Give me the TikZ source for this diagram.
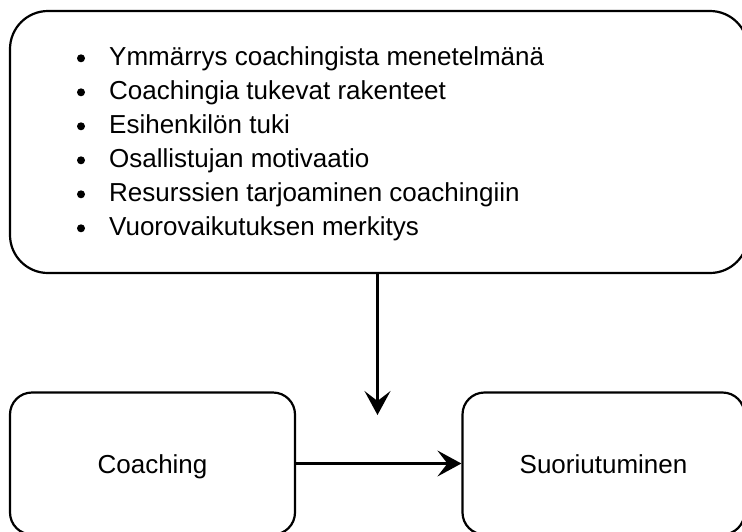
\documentclass[tikz,border=0pt]{standalone}
\usepackage{fontspec}
\setmainfont{Liberation Sans}
\usetikzlibrary{arrows.meta}

\tikzset{
  box/.style={draw, line width=2.2pt, rounded corners=#1, inner sep=0pt},
  boxtext/.style={font=\fontsize{26}{30}\selectfont, text height=19pt, text depth=0pt},
  item/.style={anchor=base west, inner sep=0pt, font=\fontsize{26}{30}\selectfont},
  dot/.style={fill=black},
  flow/.style={draw, line width=2.2pt, -{Stealth[length=24pt, width=26pt, inset=10pt]}}
}

\begin{document}
\begin{tikzpicture}[x=1pt, y=-1pt]
  \useasboundingbox (0,0) rectangle (742,531);
  \clip (0,0) rectangle (742,531);

  % factor list box
  \node[box=38pt, minimum width=738pt, minimum height=262pt] (factors) at (379,142) {};

  % bullet items
  \foreach \txt [count=\i] in {Ymmärrys coachingista menetelmänä,
                               Coachingia tukevat rakenteet,
                               Esihenkilön tuki,
                               Osallistujan motivaatio,
                               Resurssien tarjoaminen coachingiin,
                               Vuorovaikutuksen merkitys} {
    \pgfmathsetmacro{\base}{65+34*(\i-1)}
    \fill[dot] (81,\base-6.7) circle (4pt);
    \node[item] (item\i) at (109,\base) {\txt};
  }

  % lower boxes
  \node[box=22pt, boxtext, minimum width=285pt, minimum height=142pt] (coach) at (152.5,463.5) {Coaching};
  \node[box=22pt, boxtext, minimum width=282pt, minimum height=142pt] (perf) at (603.5,463.5) {Suoriutuminen};

  % connectors
  \coordinate (drop) at (377.5,415);
  \path[flow] (factors.south -| drop) -- (drop);
  \path[flow] (coach) -- (perf);
\end{tikzpicture}
\end{document}
